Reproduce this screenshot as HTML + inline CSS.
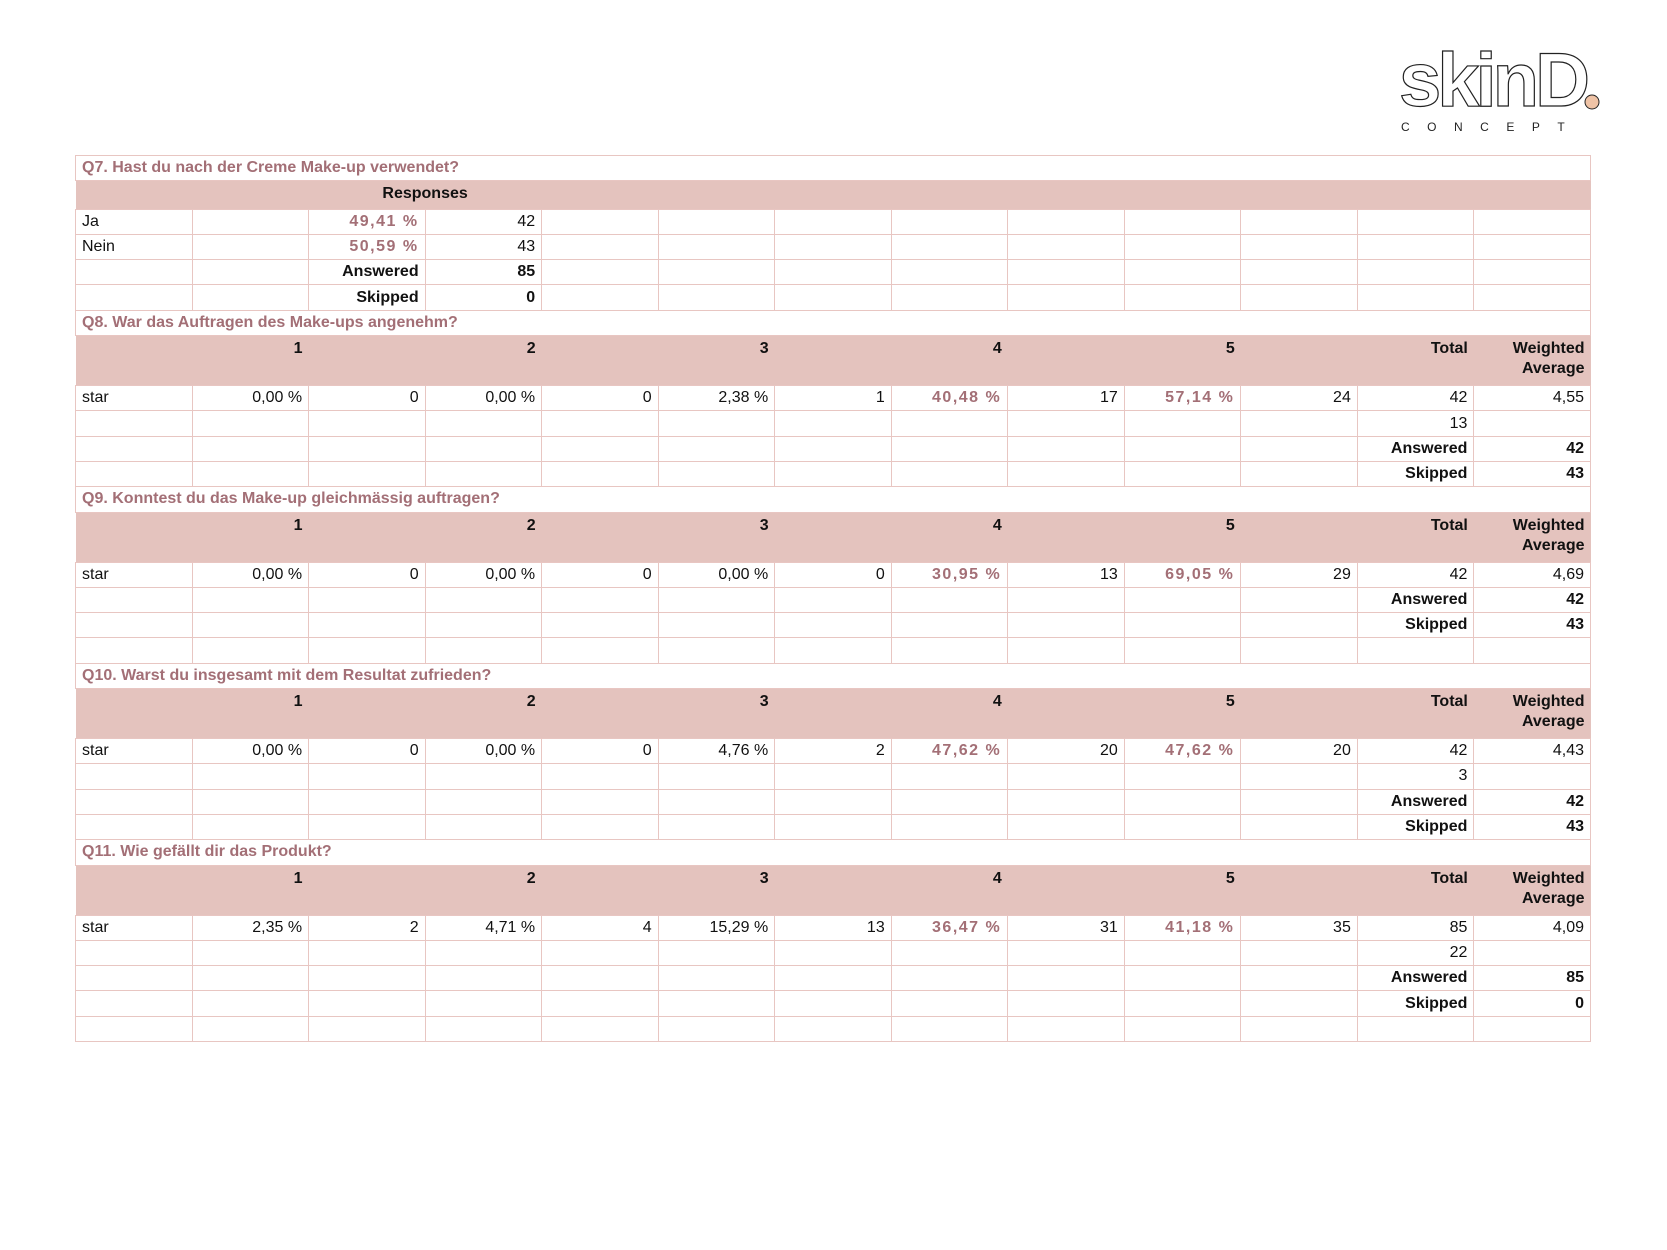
<!DOCTYPE html>
<html><head><meta charset="utf-8"><style>
body{margin:0;width:1667px;height:1250px;background:#fff;font-family:"Liberation Sans",sans-serif;position:relative;overflow:hidden}
table{position:absolute;left:75px;top:155px;width:1516px;border-collapse:collapse;table-layout:fixed;font-size:16px;color:#111}
td{height:24.3px;padding:0 6px;border:1.5px solid #e8c6c2;text-align:right;white-space:nowrap;line-height:20px}
td.l{text-align:left}
tr.t td{color:#a36f76;font-weight:bold;text-align:left;border-left:1.5px solid #e8c6c2;border-right:1.5px solid #e8c6c2}
tr.h td{background:#e4c3be;font-weight:bold;border:none;vertical-align:top;padding-top:3px}
tr.h2 td{height:46px}
.p{color:#a36f76;font-weight:bold;letter-spacing:1.5px}
.b{font-weight:bold}
</style></head><body>
<svg style="position:absolute;left:1395px;top:40px" width="210" height="95">
<text x="4" y="66" font-family="Liberation Sans" font-weight="bold" font-size="76" fill="#fff" stroke="#222" stroke-width="1.2" letter-spacing="-4">skinD</text>
<circle cx="197" cy="62" r="7" fill="#efc3a6" stroke="#222" stroke-width="1"/>
<text x="6" y="91" font-family="Liberation Sans" font-size="12" fill="#222" letter-spacing="17.5">CONCEPT</text>
</svg>
<table>
<colgroup><col span="13"></colgroup>
<tr class="t"><td colspan="13">Q7. Hast du nach der Creme Make-up verwendet?</td></tr>
<tr class="h"><td colspan="2"></td><td colspan="2" style="text-align:center">Responses</td><td colspan="9"></td></tr>
<tr><td class="l">Ja</td><td></td><td class="p">49,41 %</td><td>42</td><td></td><td></td><td></td><td></td><td></td><td></td><td></td><td></td><td></td></tr>
<tr><td class="l">Nein</td><td></td><td class="p">50,59 %</td><td>43</td><td></td><td></td><td></td><td></td><td></td><td></td><td></td><td></td><td></td></tr>
<tr><td></td><td></td><td class="b">Answered</td><td class="b">85</td><td></td><td></td><td></td><td></td><td></td><td></td><td></td><td></td><td></td></tr>
<tr><td></td><td></td><td class="b">Skipped</td><td class="b">0</td><td></td><td></td><td></td><td></td><td></td><td></td><td></td><td></td><td></td></tr>

<tr class="t"><td colspan="13">Q8. War das Auftragen des Make-ups angenehm?</td></tr>
<tr class="h h2"><td></td><td>1</td><td></td><td>2</td><td></td><td>3</td><td></td><td>4</td><td></td><td>5</td><td></td><td>Total</td><td>Weighted<br>Average</td></tr>
<tr><td class="l">star</td><td>0,00 %</td><td>0</td><td>0,00 %</td><td>0</td><td>2,38 %</td><td>1</td><td class="p">40,48 %</td><td>17</td><td class="p">57,14 %</td><td>24</td><td>42</td><td>4,55</td></tr>
<tr><td></td><td></td><td></td><td></td><td></td><td></td><td></td><td></td><td></td><td></td><td></td><td>13</td><td></td></tr>
<tr><td></td><td></td><td></td><td></td><td></td><td></td><td></td><td></td><td></td><td></td><td></td><td class="b">Answered</td><td class="b">42</td></tr>
<tr><td></td><td></td><td></td><td></td><td></td><td></td><td></td><td></td><td></td><td></td><td></td><td class="b">Skipped</td><td class="b">43</td></tr>

<tr class="t"><td colspan="13">Q9. Konntest du das Make-up gleichmässig auftragen?</td></tr>
<tr class="h h2"><td></td><td>1</td><td></td><td>2</td><td></td><td>3</td><td></td><td>4</td><td></td><td>5</td><td></td><td>Total</td><td>Weighted<br>Average</td></tr>
<tr><td class="l">star</td><td>0,00 %</td><td>0</td><td>0,00 %</td><td>0</td><td>0,00 %</td><td>0</td><td class="p">30,95 %</td><td>13</td><td class="p">69,05 %</td><td>29</td><td>42</td><td>4,69</td></tr>
<tr><td></td><td></td><td></td><td></td><td></td><td></td><td></td><td></td><td></td><td></td><td></td><td class="b">Answered</td><td class="b">42</td></tr>
<tr><td></td><td></td><td></td><td></td><td></td><td></td><td></td><td></td><td></td><td></td><td></td><td class="b">Skipped</td><td class="b">43</td></tr>
<tr><td></td><td></td><td></td><td></td><td></td><td></td><td></td><td></td><td></td><td></td><td></td><td></td><td></td></tr>

<tr class="t"><td colspan="13">Q10. Warst du insgesamt mit dem Resultat zufrieden?</td></tr>
<tr class="h h2"><td></td><td>1</td><td></td><td>2</td><td></td><td>3</td><td></td><td>4</td><td></td><td>5</td><td></td><td>Total</td><td>Weighted<br>Average</td></tr>
<tr><td class="l">star</td><td>0,00 %</td><td>0</td><td>0,00 %</td><td>0</td><td>4,76 %</td><td>2</td><td class="p">47,62 %</td><td>20</td><td class="p">47,62 %</td><td>20</td><td>42</td><td>4,43</td></tr>
<tr><td></td><td></td><td></td><td></td><td></td><td></td><td></td><td></td><td></td><td></td><td></td><td>3</td><td></td></tr>
<tr><td></td><td></td><td></td><td></td><td></td><td></td><td></td><td></td><td></td><td></td><td></td><td class="b">Answered</td><td class="b">42</td></tr>
<tr><td></td><td></td><td></td><td></td><td></td><td></td><td></td><td></td><td></td><td></td><td></td><td class="b">Skipped</td><td class="b">43</td></tr>

<tr class="t"><td colspan="13">Q11. Wie gefällt dir das Produkt?</td></tr>
<tr class="h h2"><td></td><td>1</td><td></td><td>2</td><td></td><td>3</td><td></td><td>4</td><td></td><td>5</td><td></td><td>Total</td><td>Weighted<br>Average</td></tr>
<tr><td class="l">star</td><td>2,35 %</td><td>2</td><td>4,71 %</td><td>4</td><td>15,29 %</td><td>13</td><td class="p">36,47 %</td><td>31</td><td class="p">41,18 %</td><td>35</td><td>85</td><td>4,09</td></tr>
<tr><td></td><td></td><td></td><td></td><td></td><td></td><td></td><td></td><td></td><td></td><td></td><td>22</td><td></td></tr>
<tr><td></td><td></td><td></td><td></td><td></td><td></td><td></td><td></td><td></td><td></td><td></td><td class="b">Answered</td><td class="b">85</td></tr>
<tr><td></td><td></td><td></td><td></td><td></td><td></td><td></td><td></td><td></td><td></td><td></td><td class="b">Skipped</td><td class="b">0</td></tr>
<tr><td></td><td></td><td></td><td></td><td></td><td></td><td></td><td></td><td></td><td></td><td></td><td></td><td></td></tr>
</table>
</body></html>
